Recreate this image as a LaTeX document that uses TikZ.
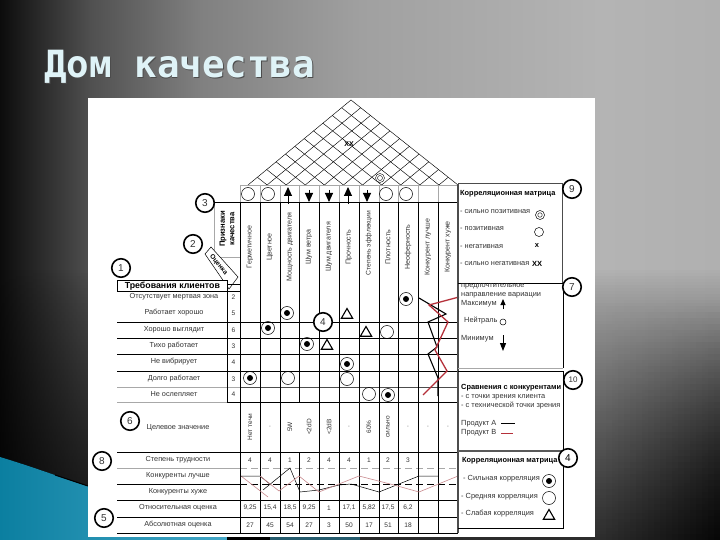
\documentclass[tikz,border=0pt]{standalone}
\usepackage{fontspec}
\setmainfont{Liberation Sans}
\newfontfamily\titlefont{DejaVu Sans Mono}
\usetikzlibrary{calc,arrows.meta,shapes.geometric}
\definecolor{txt}{HTML}{333333}
\definecolor{redl}{HTML}{B5303A}
\definecolor{pinkl}{HTML}{C98A8E}
\definecolor{greyl}{HTML}{A8A8A8}
\definecolor{tealL}{HTML}{0B7FA0}
\definecolor{tealR}{HTML}{45A8C8}
\definecolor{titlec}{HTML}{DFF3F7}
\definecolor{g0}{HTML}{0C0C0C}
\definecolor{g1}{HTML}{505050}
\definecolor{g2}{HTML}{808080}
\definecolor{g3}{HTML}{A0A0A0}
\definecolor{g4}{HTML}{B4B4B4}
\definecolor{g5}{HTML}{B0B0B0}
\tikzset{
 lab/.style={inner sep=0pt,text=txt,font=\fontsize{7.3}{8}\selectfont},
 labw/.style={lab,anchor=west,font=\fontsize{7.4}{8}\selectfont},
 head/.style={inner sep=0pt,text=black,font=\bfseries\fontsize{7.4}{8}\selectfont},
 vert/.style={lab,rotate=90,font=\fontsize{7.1}{8}\selectfont},
 val/.style={lab,font=\fontsize{6.6}{8}\selectfont},
 hollow/.style={circle,draw=black,line width=.5pt,minimum size=13pt,inner sep=0pt},
 strong/.style={hollow,path picture={\fill[black] (path picture bounding box.center) circle (3pt);}},
 tri/.style={regular polygon,regular polygon sides=3,draw=black,line width=1.1pt,minimum size=13pt,inner sep=0pt},
 badge/.style={circle,draw=black,line width=1.6pt,fill=white,minimum size=18.5pt,inner sep=0pt,font=\fontsize{10}{11}\selectfont,text=txt},
 grid/.style={line width=.8pt,black},
 thin grid/.style={line width=.5pt,greyl},
 roof/.style={line width=.45pt,black},
 ua/.style={line width=1pt,-{Triangle[width=8pt,length=9pt]}},
}
\begin{document}
\begin{tikzpicture}[x=1pt,y=-1pt]
\useasboundingbox (0,0) rectangle (720,540);
\begin{scope}
\clip (0,0) rectangle (720,540);
% background: horizontal ramps
\fill[left color=g0,right color=g1] (0,0) rectangle (90.5,540);
\fill[left color=g1,right color=g2] (90,0) rectangle (200.5,540);
\fill[left color=g2,right color=g3] (200,0) rectangle (360.5,540);
\fill[left color=g3,right color=g4] (360,0) rectangle (600.5,540);
\fill[left color=g4,right color=g5] (600,0) rectangle (720,540);
% background: darkening towards the bottom
\foreach \yy in {270,273,...,537}{
 \pgfmathsetmacro{\oo}{.75*pow((\yy-270+1.5)/270,.8)}
 \fill[black,fill opacity=\oo] (0,\yy) rectangle (720,\yy+3);
}
\foreach \xx in {600,606,...,714}{
 \foreach \yy in {300,306,...,534}{
  \pgfmathsetmacro{\oo}{.85*((\xx-597)/120)*((\yy-297)/240)}
  \fill[black,fill opacity=\oo] (\xx,\yy) rectangle (\xx+6,\yy+6);
 }
}
% teal wave
\fill[left color=tealL,right color=tealR] (0,457) .. controls (30,466) and (60,477) .. (90,487) -- (230,537) -- (230,540) -- (0,540) -- cycle;
\draw[line width=1pt,black] (55,475) -- (88,486);
\fill[black] (227,537) rectangle (270,540);
\fill[black!45!tealR] (270,537) rectangle (360,540);
\end{scope}
% title
\node[inner sep=0pt,anchor=base west,text=black!70,font=\titlefont\bfseries\fontsize{37.5}{40}\selectfont] (titleshadow) at (44.8,78.8) {Дом качества};
\node[inner sep=0pt,anchor=base west,text=titlec,font=\titlefont\bfseries\fontsize{37.5}{40}\selectfont] (title) at (44,78) {Дом качества};
% sheet
\fill[white] (88,98) rectangle (595,537);
% roof
\coordinate (L) at (248,185); \coordinate (R) at (458,185); \coordinate (A) at (351,100);
\draw[roof] (L) -- (A) -- (R);
\foreach \k in {1,...,10}{
 \draw[roof] ($(L)!\k/11!(R)$) -- ($(A)!\k/11!(R)$);
 \draw[roof] ($(L)!\k/11!(R)$) -- ($(L)!\k/11!(A)$);
}
\draw[line width=.5pt,greyl] (240,185) -- (458,185);
\foreach \x in {240,260,280,299,319,339,359,379,398,418,438}
 \draw[line width=.5pt,greyl] (\x,185) -- (\x,202);
\node[inner sep=0pt,font=\bfseries\fontsize{7}{8}\selectfont] (xxroof) at (349,144) {XX};
\node[circle,draw,line width=.4pt,minimum size=9pt,inner sep=0pt,fill=white] (simroof) at (380,178) {};
\node[circle,draw,line width=.4pt,minimum size=5pt,inner sep=0pt] (simroofi) at (380,178) {};
% header symbols
\node[hollow] (h1) at (248,194) {};
\node[hollow] (h2) at (268,194) {};
\node[hollow] (h8) at (386,194) {};
\node[hollow] (h9) at (406,194) {};
\draw[ua] (288,204) -- (288,187);
\draw[ua] (309,190) -- (309,202);
\draw[ua] (329,190) -- (329,202);
\draw[ua] (348,204) -- (348,187);
\draw[ua] (367,190) -- (367,202);
% left tabs
\draw[line width=.8pt,black] (214,202) -- (240,202);
\draw[line width=.5pt,greyl] (214,202) -- (214,257);
\draw[line width=.5pt,greyl] (214,257) -- (240,257);
\node[vert,text=black,align=center,font=\bfseries\fontsize{7.6}{9.4}\selectfont] (tabq) at (227,229) {Признаки\\качества};
\draw[line width=.5pt,fill=white] (205,254) -- (211,247) -- (238,277) -- (229,289) -- cycle;
\node[inner sep=0pt,rotate=-50,text=black,font=\bfseries\fontsize{6.6}{8}\selectfont] (tabo) at (218.5,265) {Оценка};
% grid horizontals
\foreach \y in {322,338,354,371} \draw[grid] (117,\y) -- (458,\y);
\draw[thin grid] (117,387) -- (240,387);
\draw[line width=.5pt,black!70] (240,387) -- (458,387);
\draw[thin grid] (117,402) -- (227,402);
\draw[grid] (227,402) -- (458,402);
\draw[grid] (117,452) -- (458,452);
\draw[thin grid] (117,468) -- (240,468);
\draw[line width=.7pt,greyl,dash pattern=on 7pt off 4pt] (240,468) -- (458,468);
\draw[line width=1pt,black] (117,484) -- (240,484);
\draw[line width=1pt,black,dash pattern=on 7pt off 4pt] (240,484) -- (458,484);
\draw[grid] (117,500) -- (458,500);
\draw[grid] (117,517) -- (458,517);
\draw[grid] (117,533) -- (458,533);
\draw[grid] (240,202) -- (458,202);
% grid verticals
\foreach \x in {240,260,280,319,339,359,379,398,418,438,458} \draw[grid] (\x,202) -- (\x,533);
\draw[grid] (299,202) -- (299,402);
\draw[grid] (299,452) -- (299,533);
\draw[line width=.8pt,black] (227,291) -- (227,402);
% requirement header
\node[draw=black,line width=.7pt,fill=white,minimum width=110pt,minimum height=11pt,inner sep=0pt,anchor=north west,font=\bfseries\fontsize{8.8}{9}\selectfont] (reqh) at (117,280) {Требования клиентов};
\draw[line width=.6pt,black] (227,284) rectangle (240,291);
% row labels
\foreach \t/\y in {Отсутствует мертвая зона/297,Работает хорошо/313,Хорошо выглядит/330,Тихо работает/346,Не вибрирует/362,Долго работает/379,Не ослепляет/394}
 \node[lab] at (174,\y) {\t};
\foreach \t/\y in {2/297,5/313,6/330,3/346,4/362,3/379,4/394}
 \node[val] at (233.5,\y) {\t};
\node[lab] (target) at (178,428) {Целевое значение};
\foreach \t/\y in {Степень трудности/460,Конкуренты лучше/476,Конкуренты хуже/492,Относительная оценка/508,Абсолютная оценка/525}
 \node[lab] at (178,\y) {\t};
% column labels
\foreach \t/\x in {Герметичное/250,Цветное/270,Мощность двигателя/290,Шум ветра/309,Шум двигателя/329,Прочность/349,Плотность/388,Неоферность/408,Конкурент лучше/428,Конкурент хуже/448}
 \node[vert] at (\x,247) {\t};
\node[vert,font=\fontsize{6.7}{8}\selectfont] (c7lab) at (369,243) {Степень эффлекции};
% target values
\foreach \t/\x in {Нет течи/250,./270,5W/290,<2dD/309,<2dB/329,./349,60\%/369,сильно/388,./408,./428,./448}
 \node[vert,font=\fontsize{6.5}{8}\selectfont] at (\x,427) {\t};
% bottom values
\foreach \t/\x in {4/250,4/270,1/290,2/309,4/329,4/349,1/369,2/388,3/408}
 \node[val] at (\x,460) {\t};
\foreach \t/\x in {{9,25}/250,{15,4}/270,{18,5}/290,{9,25}/309,1/329,{17,1}/349,{5,82}/369,{17,5}/388,{6,2}/408}
 \node[val] at (\x,508) {\t};
\foreach \t/\x in {27/250,45/270,54/290,27/309,3/329,50/349,17/369,51/388,18/408}
 \node[val] at (\x,525) {\t};
% matrix symbols
\node[strong] (s1) at (287,313) {};
\node[strong] (s2) at (268,328) {};
\node[strong] (s3) at (307,344) {};
\node[strong] (s4) at (250,378) {};
\node[strong] (s5) at (347,364) {};
\node[strong] (s6) at (406,299) {};
\node[strong] (s7) at (388,395) {};
\node[hollow] (m1) at (288,378) {};
\node[hollow] (m2) at (387,332) {};
\node[hollow] (m3) at (347,379) {};
\node[hollow] (m4) at (369,394) {};
\node[tri] (t1) at (327,346) {};
\node[tri] (t2) at (347,315) {};
\node[tri] (t3) at (366,333) {};
% competitor lines top
\draw[line width=1.1pt,black] (419,298) -- (446,314) -- (428,322) -- (437,347) -- (428,354) -- (438,378) -- (438,396);
\draw[line width=1.3pt,redl] (459,297) -- (429,305) -- (448,322) -- (435,350) -- (447,371) -- (423,395);
% competitor lines bottom
\draw[line width=.6pt,pinkl] (241,476) -- (268,497);
\draw[line width=.5pt,black] (241,476) -- (260,476) -- (271,485);
\draw[line width=.5pt,black] (263,490) -- (290,468) -- (300,492) -- (319,490) -- (339,485) -- (351,484) -- (379,492) -- (419,476) -- (438,476);
\draw[line width=.6pt,pinkl] (260,476) -- (279,491) -- (299,476) -- (319,492) -- (359,476) -- (394,485) -- (419,492) -- (458,476);
% right panels
\draw[line width=1pt,black!70] (458,184) -- (562,184) -- (562,283);
\draw[line width=1.4pt,black!70] (458,184) -- (458,533);
\draw[line width=1pt,black] (458,283) -- (563,283);
\draw[line width=.8pt,black] (563,283) -- (563,368);
\draw[line width=.7pt,greyl] (458,368) -- (563,368);
\draw[line width=.7pt,black] (458,371) -- (563,371) -- (563,450);
\draw[line width=1.2pt,black!65] (458,451) -- (563,451);
\draw[line width=.7pt,black] (458,528) -- (563,528) -- (563,451);
% panel 9
\node[head,anchor=west] (p9t) at (460,193.5) {Корреляционная матрица};
\node[labw] at (460,212) {- сильно позитивная};
\node[labw] at (460,229) {- позитивная};
\node[labw] at (460,247) {- негативная};
\node[labw] at (460,264) {- сильно негативная};
\node[circle,draw,line width=.5pt,minimum size=9pt,inner sep=0pt] (c9a) at (540,215) {};
\node[circle,draw,line width=.4pt,minimum size=4.5pt,inner sep=0pt] (c9ai) at (540,215) {};
\node[circle,draw,line width=.5pt,minimum size=9pt,inner sep=0pt] (c9b) at (539,232) {};
\node[inner sep=0pt,font=\bfseries\fontsize{7.5}{8}\selectfont] (x9) at (537,246) {x};
\node[inner sep=0pt,font=\bfseries\fontsize{7.5}{8}\selectfont] (xx9) at (537,264) {XX};
% panel 7
\node[labw] at (461,286.5) {предпочтительное};
\node[labw] at (461,295) {направление вариации};
\node[labw] at (461,304) {Максимум};
\node[labw] at (464,321) {Нейтраль};
\node[labw] at (461,339) {Минимум};
\draw[line width=1pt,-{Triangle[width=5pt,length=6pt]}] (503,309) -- (503,299);
\node[circle,draw,line width=.5pt,minimum size=6pt,inner sep=0pt] (c7) at (503,322) {};
\draw[line width=1pt,-{Triangle[width=6pt,length=8pt]}] (503,335) -- (503,351);
% panel 10
\node[head,anchor=west] (p10t) at (461,388) {Сравнения с конкурентами};
\node[labw] at (461,397) {- с точки зрения клиента};
\node[labw] at (461,406) {- с технической точки зрения};
\node[labw] (pa) at (461,424) {Продукт А};
\node[labw] (pb) at (461,433) {Продукт В};
\draw[line width=.7pt,black] (501,423) -- (515,423);
\draw[line width=.7pt,redl] (501,433) -- (513,433);
% panel 4
\node[head,anchor=west] (p4t) at (462,461) {Корреляционная матрица};
\node[labw] at (463,479) {- Сильная корреляция};
\node[labw] at (461,497) {- Средняя корреляция};
\node[labw] at (461,514) {- Слабая корреляция};
\node[strong] (k1) at (549,481) {};
\node[hollow] (k2) at (549,498) {};
\node[tri] (k3) at (549,516) {};
% badges
\node[badge] (b1) at (121,268) {1};
\node[badge] (b2) at (193,244) {2};
\node[badge] (b3) at (205,203) {3};
\node[badge] (b4) at (323,322) {4};
\node[badge] (b5) at (104,518) {5};
\node[badge] (b6) at (130,421) {6};
\node[badge] (b7) at (572,287) {7};
\node[badge] (b8) at (102,461) {8};
\node[badge] (b9) at (572,189) {9};
\node[badge,font=\fontsize{8}{9}\selectfont] (b10) at (573,380) {10};
\node[badge,text=black] (b4r) at (568,458) {4};
\end{tikzpicture}
\end{document}
